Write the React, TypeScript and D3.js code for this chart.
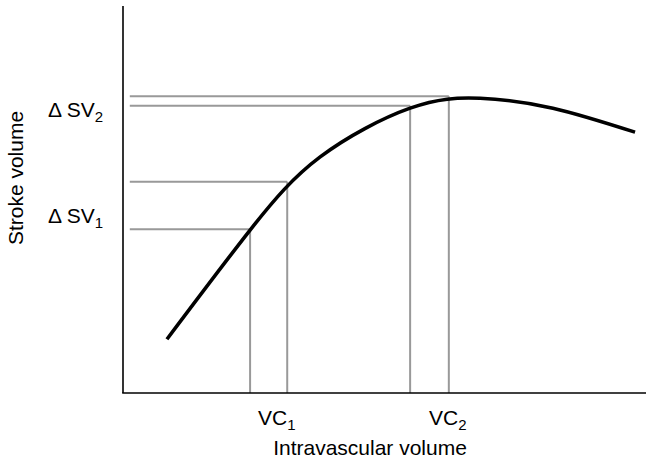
import React from "react";
import * as d3 from "d3";

const W = 646;
const H = 461;

// Frank-Starling style curve: intravascular volume (x) vs stroke volume (y), arbitrary units 0-100
const curveVolume = [8.4, 24.3, 37.7, 54.9, 68.3, 82.2, 97.9];
const curveStroke = [13.9, 42.1, 61.0, 73.6, 76.15, 73.6, 67.4];

// Reference guide lines (VC on x, SV on y)
const guideVC = [24.3, 31.4, 54.9, 62.3];
const guideSV = [42.3, 54.6, 74.2, 76.7];
const guideStart = 1.3;

// Tick-style labels
const yLabelMain = ["Δ SV", "Δ SV"];
const yLabelSub = ["1", "2"];
const yLabelPos = [44.0, 71.4];
const xLabelMain = ["VC", "VC"];
const xLabelSub = ["1", "2"];
const xLabelPos = [29.4, 62.1];

const xTitle = "Intravascular volume";
const yTitle = "Stroke volume";

export default function App() {
  const x = d3.scaleLinear().domain([0, 100]).range([123, 646]);
  const y = d3.scaleLinear().domain([0, 100]).range([393, 6]);

  const pts: [number, number][] = curveVolume.map((v, i) => [v, curveStroke[i]]);
  const line = d3
    .line<[number, number]>()
    .x((d) => x(d[0]))
    .y((d) => y(d[1]))
    .curve(d3.curveNatural);

  const font = "'Liberation Sans', Arial, Helvetica, sans-serif";
  const fs = 21;
  const subFs = 15;

  return (
    <svg
      width={W}
      height={H}
      style={{ position: "absolute", left: 0, top: 0, background: "#fff" }}
      fontFamily={font}
    >
      {/* guide lines */}
      {guideVC.map((vc, i) => (
        <g key={i} stroke="#999999" strokeWidth={2} fill="none">
          <line x1={x(vc)} x2={x(vc)} y1={y(0)} y2={y(guideSV[i])} />
          <line x1={x(guideStart)} x2={x(vc)} y1={y(guideSV[i])} y2={y(guideSV[i])} />
        </g>
      ))}

      {/* curve */}
      <path d={line(pts) || ""} fill="none" stroke="#000" strokeWidth={3.6} />

      {/* axes */}
      <line x1={x(0)} x2={x(0)} y1={y(0)} y2={y(100)} stroke="#000" strokeWidth={1.6} />
      <line x1={x(0) - 0.8} x2={x(100)} y1={y(0)} y2={y(0)} stroke="#000" strokeWidth={1.6} />

      {/* y labels */}
      {yLabelMain.map((m, i) => (
        <text key={i} x={103} y={y(yLabelPos[i])} fontSize={fs} textAnchor="end" fill="#000">
          {m}
          <tspan fontSize={subFs} dy={5}>
            {yLabelSub[i]}
          </tspan>
        </text>
      ))}

      {/* x labels */}
      {xLabelMain.map((m, i) => (
        <text key={i} x={x(xLabelPos[i])} y={425} fontSize={fs} textAnchor="middle" fill="#000">
          {m}
          <tspan fontSize={subFs} dy={5}>
            {xLabelSub[i]}
          </tspan>
        </text>
      ))}

      {/* titles */}
      <text x={370} y={455} fontSize={fs} textAnchor="middle" fill="#000">
        {xTitle}
      </text>
      <text
        transform={`translate(23, 178) rotate(-90)`}
        fontSize={fs}
        textAnchor="middle"
        fill="#000"
      >
        {yTitle}
      </text>
    </svg>
  );
}
